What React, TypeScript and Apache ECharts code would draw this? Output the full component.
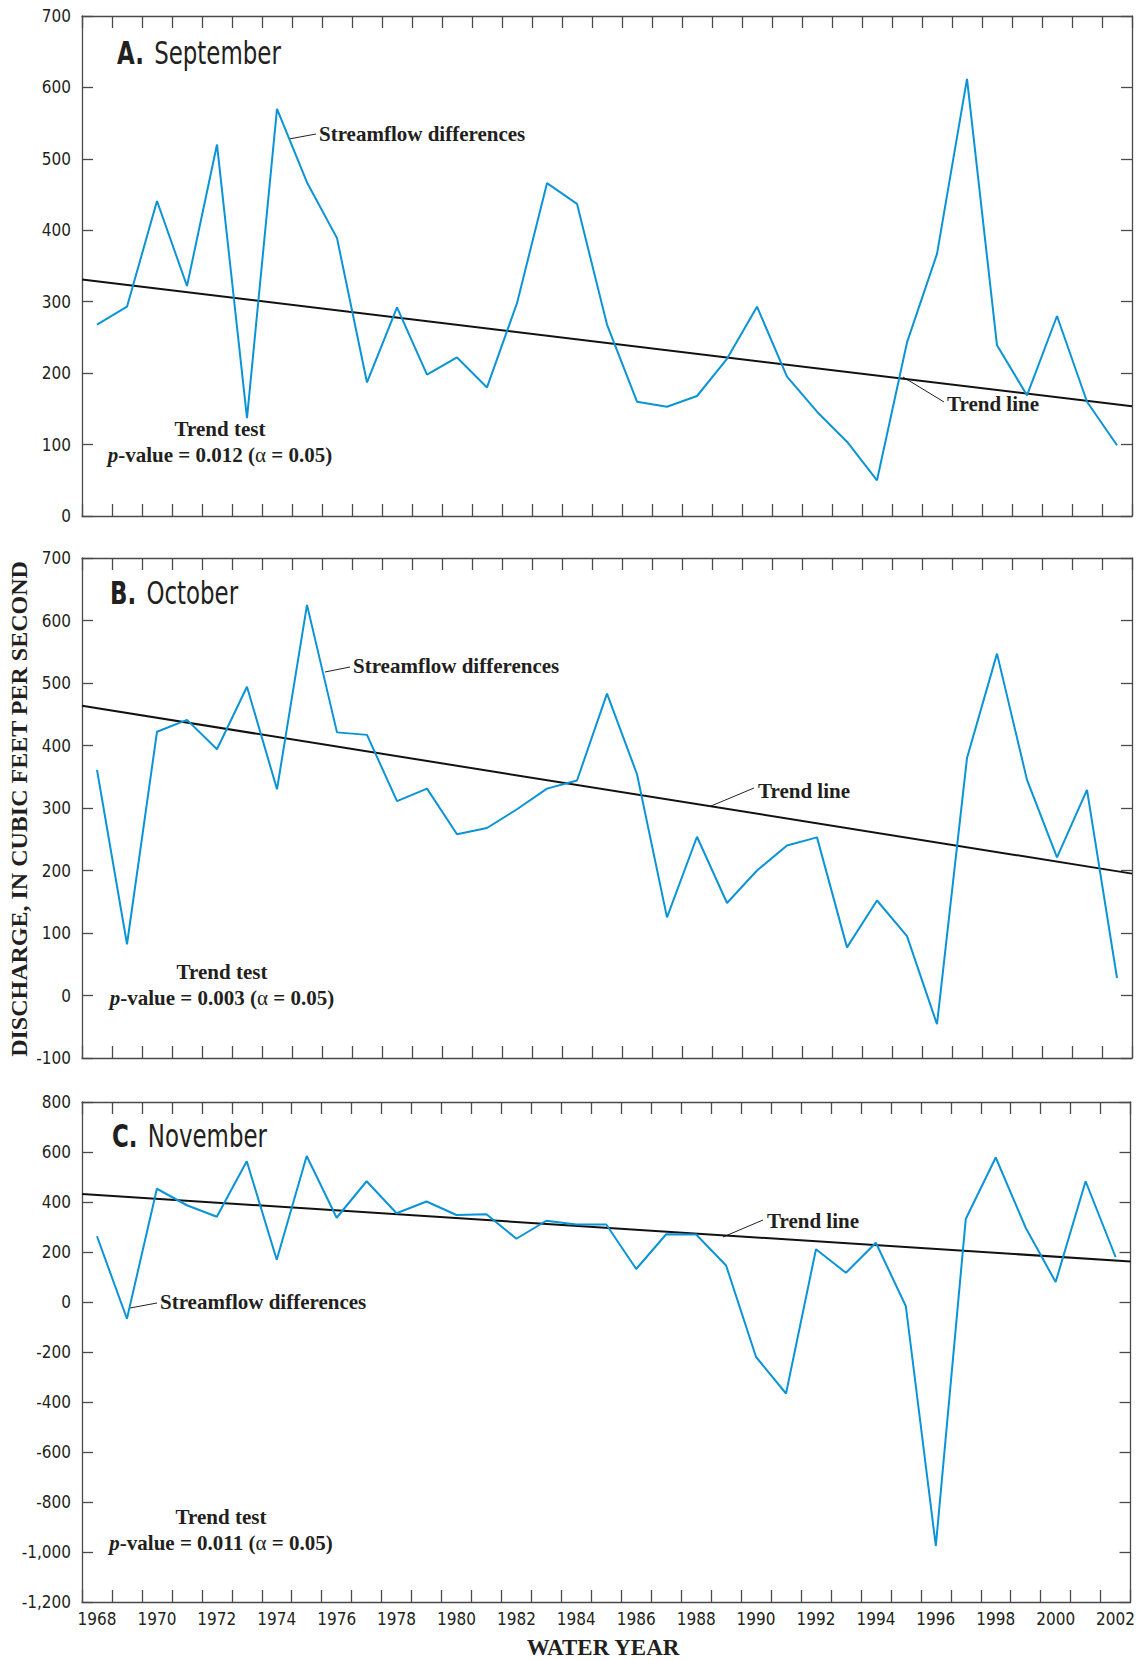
import React, { useEffect, useRef } from "react";
import * as echarts from "echarts";

// ---------- data ----------
const years = [
  "1968", "1969", "1970", "1971", "1972", "1973", "1974", "1975", "1976", "1977",
  "1978", "1979", "1980", "1981", "1982", "1983", "1984", "1985", "1986", "1987",
  "1988", "1989", "1990", "1991", "1992", "1993", "1994", "1995", "1996", "1997",
  "1998", "1999", "2000", "2001", "2002",
];

const septemberDiff = [
  268, 293, 441, 322, 520, 137, 570, 467, 389, 187, 292, 198, 222, 180, 298, 466, 437,
  268, 160, 153, 168, 220, 293, 195, 146, 104, 50, 243, 367, 612, 239, 169, 280, 160, 99,
];
const octoberDiff = [
  361, 82, 422, 441, 394, 494, 330, 625, 421, 417, 311, 331, 258, 268, 298, 331, 344,
  483, 354, 125, 254, 148, 200, 240, 253, 77, 152, 95, -46, 380, 547, 345, 221, 329, 28,
];
const novemberDiff = [
  263, -67, 453, 387, 341, 563, 169, 584, 337, 483, 355, 402, 348, 351, 253, 325, 310,
  310, 132, 271, 270, 146, -220, -366, 211, 117, 237, -17, -976, 332, 578, 297, 80, 483, 180,
];

// trend line values at the left and right edges of the plot (water year 1967.5 and 2002.5)
const trendEdgeYears = [1967.5, 2002.5];
const septemberTrend = [331, 153.5];
const octoberTrend = [463.5, 195];
const novemberTrend = [432, 162];

// y-axis scales
const septemberAxis = { min: 0, max: 700, interval: 100 };
const octoberAxis = { min: -100, max: 700, interval: 100 };
const novemberAxis = { min: -1200, max: 800, interval: 200 };

const panelTitles = [
  { letter: "A.", month: "September" },
  { letter: "B.", month: "October" },
  { letter: "C.", month: "November" },
];
const pValues = ["0.012", "0.003", "0.011"];

// ---------- styling ----------
const W = 1138;
const H = 1660;
const NARROW = "'Liberation Sans Narrow', 'Arial Narrow', 'DejaVu Sans Condensed', sans-serif";
const SERIF = "'Liberation Serif', 'Times New Roman', serif";
const TEXT = "#231f20";
const FRAME = "#4a4a4a";
const BLUE = "#0a94d6";

const GRID_LEFT = 82;
const GRID_RIGHT = 6;
const GRID_H = 500;
const gridTops = [16, 558, 1102];

function fmt(v: number) {
  return Number(v).toLocaleString("en-US");
}

function buildOption() {
  const panels = [
    { values: septemberDiff, trend: septemberTrend, axis: septemberAxis },
    { values: octoberDiff, trend: octoberTrend, axis: octoberAxis },
    { values: novemberDiff, trend: novemberTrend, axis: novemberAxis },
  ];

  const grid: any[] = [];
  const xAxis: any[] = [];
  const yAxis: any[] = [];
  const series: any[] = [];

  const lineStyle = { color: FRAME, width: 1.3 };

  panels.forEach((p, i) => {
    grid.push({ left: GRID_LEFT, right: GRID_RIGHT, top: gridTops[i], height: GRID_H, containLabel: false });

    const catBase = {
      type: "category",
      gridIndex: i,
      data: years,
      boundaryGap: true,
      axisLine: { show: true, onZero: false, lineStyle },
      axisTick: { show: true, inside: true, length: 12, interval: 0, alignWithLabel: false, lineStyle },
      splitLine: { show: false },
    };
    xAxis.push({
      ...catBase,
      position: "bottom",
      axisLabel: {
        show: i === 2,
        interval: 1,
        fontSize: 17,
        fontFamily: NARROW,
        color: TEXT,
        margin: 8,
      },
    });
    xAxis.push({ ...catBase, position: "top", axisLabel: { show: false } });
    xAxis.push({
      type: "value",
      gridIndex: i,
      min: trendEdgeYears[0],
      max: trendEdgeYears[1],
      show: false,
      splitLine: { show: false },
    });

    const yBase = {
      type: "value",
      gridIndex: i,
      min: p.axis.min,
      max: p.axis.max,
      interval: p.axis.interval,
      axisLine: { show: true, onZero: false, lineStyle },
      axisTick: { show: true, inside: true, length: 11, lineStyle },
      splitLine: { show: false },
    };
    yAxis.push({
      ...yBase,
      position: "left",
      axisLabel: {
        show: true,
        fontSize: 17,
        fontFamily: NARROW,
        color: TEXT,
        margin: 11,
        formatter: (v: number) => fmt(v),
      },
    });
    yAxis.push({ ...yBase, position: "right", axisLabel: { show: false } });

    series.push({
      type: "line",
      name: "Streamflow differences",
      xAxisIndex: i * 3,
      yAxisIndex: i * 2,
      data: p.values,
      symbol: "none",
      lineStyle: { color: BLUE, width: 2 },
      z: 3,
    });
    series.push({
      type: "line",
      name: "Trend line",
      xAxisIndex: i * 3 + 2,
      yAxisIndex: i * 2,
      data: trendEdgeYears.map((yr, k) => [yr, p.trend[k]]),
      symbol: "none",
      lineStyle: { color: "#111", width: 2 },
      z: 2,
    });
  });

  const boldSerif = (size: number) => ({ fontFamily: SERIF, fontWeight: "bold", fontSize: size, fill: TEXT });

  // annotation positions
  const titlePos = [
    { x: 117, y: 53 },
    { x: 110, y: 593 },
    { x: 112, y: 1136 },
  ];
  const sfPos = [
    { x: 319, y: 134, lx1: 289, ly1: 139, lx2: 316, ly2: 134 },
    { x: 353, y: 666, lx1: 325, ly1: 672, lx2: 350, ly2: 667 },
    { x: 160, y: 1302, lx1: 130, ly1: 1308, lx2: 157, ly2: 1303 },
  ];
  const tlPos = [
    { x: 947, y: 404, lx1: 903, ly1: 377, lx2: 944, ly2: 402 },
    { x: 758, y: 791, lx1: 711, ly1: 806, lx2: 754, ly2: 788 },
    { x: 767, y: 1221, lx1: 723, ly1: 1237, lx2: 763, ly2: 1220 },
  ];
  const ttPos = [
    { x: 220, y: 429 },
    { x: 222, y: 972 },
    { x: 221, y: 1517 },
  ];

  const graphic: any[] = [];
  for (let i = 0; i < 3; i++) {
    graphic.push({
      type: "text",
      x: titlePos[i].x,
      y: titlePos[i].y,
      scaleX: 0.85,
      scaleY: 1.05,
      style: {
        text: `{b|${panelTitles[i].letter}}{r|${panelTitles[i].month}}`,
        verticalAlign: "middle",
        align: "left",
        rich: {
          b: { fontFamily: NARROW, fontWeight: "bold", fontSize: 30, fill: TEXT, color: TEXT },
          r: {
            fontFamily: NARROW,
            fontWeight: "normal",
            fontSize: 30,
            fill: TEXT,
            color: TEXT,
            padding: [0, 0, 0, 12],
          },
        },
      },
    });
    graphic.push({
      type: "text",
      x: sfPos[i].x,
      y: sfPos[i].y,
      style: { text: "Streamflow differences", align: "left", verticalAlign: "middle", ...boldSerif(21) },
    });
    graphic.push({
      type: "line",
      shape: { x1: sfPos[i].lx1, y1: sfPos[i].ly1, x2: sfPos[i].lx2, y2: sfPos[i].ly2 },
      style: { stroke: "#222", lineWidth: 1 },
    });
    graphic.push({
      type: "text",
      x: tlPos[i].x,
      y: tlPos[i].y,
      style: { text: "Trend line", align: "left", verticalAlign: "middle", ...boldSerif(21) },
    });
    graphic.push({
      type: "line",
      shape: { x1: tlPos[i].lx1, y1: tlPos[i].ly1, x2: tlPos[i].lx2, y2: tlPos[i].ly2 },
      style: { stroke: "#222", lineWidth: 1 },
    });
    graphic.push({
      type: "text",
      x: ttPos[i].x,
      y: ttPos[i].y,
      style: { text: "Trend test", align: "center", verticalAlign: "middle", ...boldSerif(21) },
    });
    graphic.push({
      type: "text",
      x: ttPos[i].x,
      y: ttPos[i].y + 26,
      style: {
        text: `{i|p}{b|-value = ${pValues[i]} (}{a|α}{b| = 0.05)}`,
        align: "center",
        verticalAlign: "middle",
        rich: {
          i: { fontFamily: SERIF, fontWeight: "bold", fontStyle: "italic", fontSize: 21, fill: TEXT, color: TEXT },
          b: { fontFamily: SERIF, fontWeight: "bold", fontSize: 21, fill: TEXT, color: TEXT },
          a: { fontFamily: SERIF, fontWeight: "normal", fontSize: 21, fill: TEXT, color: TEXT },
        },
      },
    });
  }

  graphic.push({
    type: "text",
    x: 19,
    y: 809,
    rotation: Math.PI / 2,
    style: {
      text: "DISCHARGE, IN CUBIC FEET PER SECOND",
      align: "center",
      verticalAlign: "middle",
      ...boldSerif(24),
    },
  });
  graphic.push({
    type: "text",
    x: 603,
    y: 1647,
    style: { text: "WATER YEAR", align: "center", verticalAlign: "middle", ...boldSerif(23) },
  });

  return {
    animation: false,
    backgroundColor: "#ffffff",
    grid,
    xAxis,
    yAxis,
    series,
    graphic,
  };
}

export default function App() {
  const ref = useRef<HTMLDivElement>(null);
  useEffect(() => {
    if (!ref.current) return;
    const chart = echarts.init(ref.current, undefined, { renderer: "svg", width: W, height: H });
    chart.setOption(buildOption() as any);
    return () => chart.dispose();
  }, []);
  return (
    <div
      ref={ref}
      style={{ position: "absolute", left: 0, top: 0, width: W, height: H, background: "#fff" }}
    />
  );
}
